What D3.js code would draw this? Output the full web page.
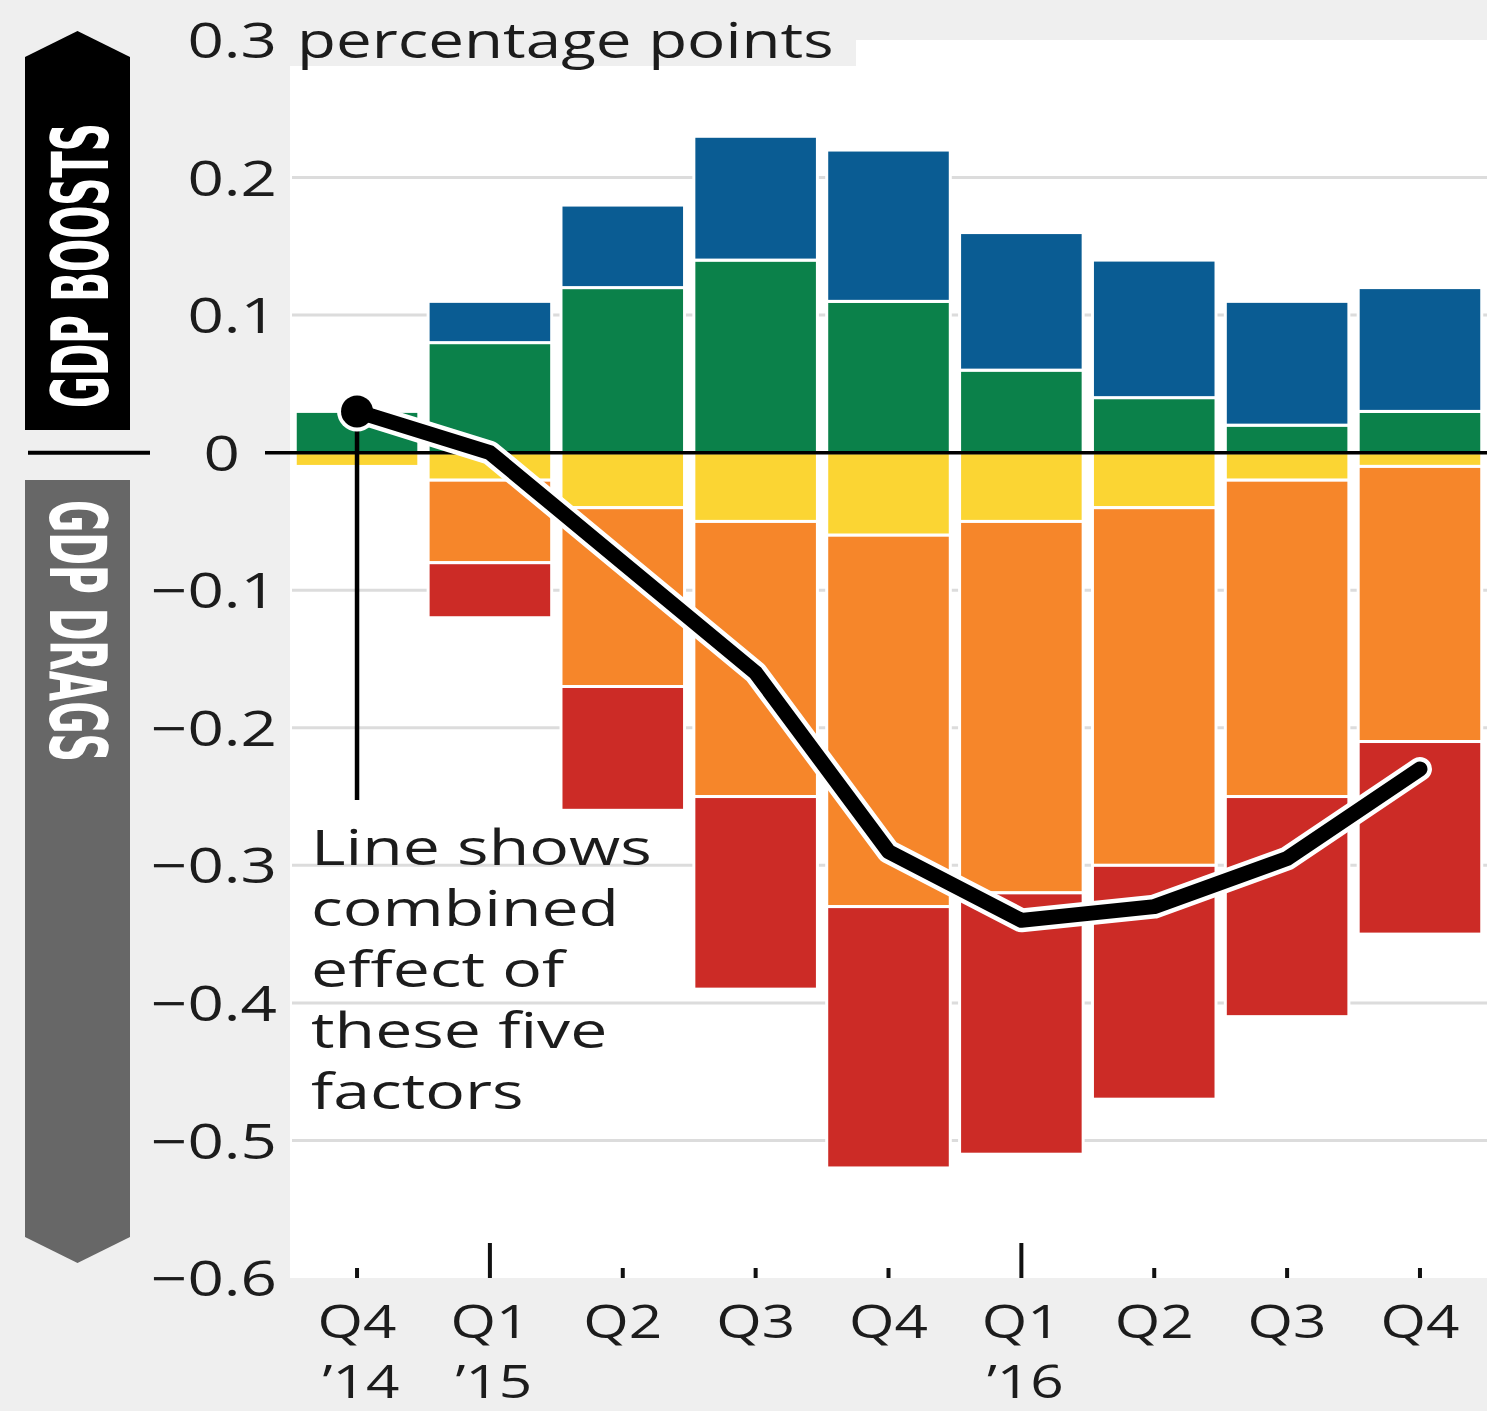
<!DOCTYPE html>
<html>
<head>
<meta charset="utf-8">
<script src="https://cdn.jsdelivr.net/npm/d3@7"></script>
<style>
  html, body { margin: 0; padding: 0; background: #efefef; }
  svg { display: block; }
  .wide { font-family: "Open Sans", "Noto Sans", sans-serif; fill: #1c1c1c; }
</style>
</head>
<body>
<svg id="chart" width="1487" height="1411"></svg>
<script>
// Quarters on the x axis
const periods = ["2014Q4", "2015Q1", "2015Q2", "2015Q3", "2015Q4", "2016Q1", "2016Q2", "2016Q3", "2016Q4"];
const quarterLabels = ["Q4", "Q1", "Q2", "Q3", "Q4", "Q1", "Q2", "Q3", "Q4"];
const yearLabels = ["’14", "’15", "", "", "", "’16", "", "", ""];

// Contributions to GDP growth, percentage points
const boostLower = [0.03, 0.08, 0.12, 0.14, 0.11, 0.06, 0.04, 0.02, 0.03];   // green
const boostUpper = [0.00, 0.03, 0.06, 0.09, 0.11, 0.10, 0.10, 0.09, 0.09];   // blue
const dragNear   = [-0.01, -0.02, -0.04, -0.05, -0.06, -0.05, -0.04, -0.02, -0.01]; // yellow
const dragMid    = [0.00, -0.06, -0.13, -0.20, -0.27, -0.27, -0.26, -0.23, -0.20]; // orange
const dragFar    = [0.00, -0.04, -0.09, -0.14, -0.19, -0.19, -0.17, -0.16, -0.14]; // red

// Combined effect of the five factors
const combined = [0.03, 0.00, -0.08, -0.16, -0.29, -0.34, -0.33, -0.295, -0.23];

// Y axis ticks
const yTickValues = [0.3, 0.2, 0.1, 0, -0.1, -0.2, -0.3, -0.4, -0.5, -0.6];

const keys = ["boostLower", "boostUpper", "dragNear", "dragMid", "dragFar"];
const colors = {
  boostLower: "#0b814a",
  boostUpper: "#0a5c93",
  dragNear: "#fbd533",
  dragMid: "#f6862a",
  dragFar: "#cc2b26"
};

const svg = d3.select("#chart");
const plot = { left: 290, right: 1487, top: 40, bottom: 1278 };

const y = d3.scaleLinear().domain([-0.6, 0.3]).range([plot.bottom, plot.top]);
const x = d3.scaleBand().domain(periods).range([290.6, 1486.4])
  .paddingInner(0.07).paddingOuter(0.035);
const cx = p => x(p) + x.bandwidth() / 2;

// Background
svg.append("rect").attr("width", 1487).attr("height", 1411).attr("fill", "#efefef");
svg.append("rect")
  .attr("x", plot.left).attr("y", plot.top)
  .attr("width", plot.right - plot.left).attr("height", plot.bottom - plot.top)
  .attr("fill", "#ffffff");

// Gridlines
svg.append("g").selectAll("line")
  .data(yTickValues.filter(v => v !== 0 && v !== 0.3 && v !== -0.6))
  .join("line")
  .attr("x1", plot.left + 2).attr("x2", plot.right)
  .attr("y1", d => y(d)).attr("y2", d => y(d))
  .attr("stroke", "#dcdcdc").attr("stroke-width", 3);

// Stacked bars
const rows = periods.map((p, i) => ({
  period: p,
  boostLower: boostLower[i],
  boostUpper: boostUpper[i],
  dragNear: dragNear[i],
  dragMid: dragMid[i],
  dragFar: dragFar[i]
}));
const stacked = d3.stack().keys(keys).offset(d3.stackOffsetDiverging)(rows);

svg.append("g").selectAll("g")
  .data(stacked)
  .join("g")
  .attr("fill", s => colors[s.key])
  .selectAll("rect")
  .data(s => s.filter(d => d[1] !== d[0]))
  .join("rect")
  .attr("x", d => x(d.data.period))
  .attr("width", x.bandwidth())
  .attr("y", d => y(Math.max(d[0], d[1])))
  .attr("height", d => Math.abs(y(d[0]) - y(d[1])))
  .attr("stroke", "#ffffff")
  .attr("stroke-width", 3);

// Zero line
svg.append("line")
  .attr("x1", 265).attr("x2", plot.right)
  .attr("y1", y(0)).attr("y2", y(0))
  .attr("stroke", "#000").attr("stroke-width", 3.5);

// Y axis labels
const yAxis = svg.append("g")
  .attr("transform", "translate(277,0)")
  .call(d3.axisLeft(y).tickValues(yTickValues).tickSize(0).tickPadding(0)
    .tickFormat(d => d === 0 ? "0" : d3.format(".1f")(d)));
yAxis.select(".domain").remove();
yAxis.selectAll("text")
  .attr("class", "wide")
  .attr("font-size", 49)
  .attr("dy", "0.36em")
  .attr("fill", "#1c1c1c")
  .attr("x", d => d === 0 ? -37 : 0);
yAxis.attr("font-family", null).attr("font-size", null);

// Unit label
svg.append("rect").attr("x", plot.left).attr("y", plot.top)
  .attr("width", 566).attr("height", 26).attr("fill", "#efefef");
svg.append("text").attr("class", "wide")
  .attr("x", 297).attr("y", y(0.3)).attr("dy", "0.36em")
  .attr("font-size", 49)
  .text("percentage points");

// X axis ticks and labels
const xg = svg.append("g");
xg.selectAll("line")
  .data(periods)
  .join("line")
  .attr("x1", d => cx(d)).attr("x2", d => cx(d))
  .attr("y1", (d, i) => quarterLabels[i] === "Q1" ? plot.bottom - 35 : plot.bottom - 10)
  .attr("y2", plot.bottom)
  .attr("stroke", "#111").attr("stroke-width", 4);
xg.selectAll("text.q")
  .data(periods)
  .join("text")
  .attr("class", "wide q")
  .attr("x", d => cx(d)).attr("y", 1338)
  .attr("text-anchor", "middle")
  .attr("font-size", 45)
  .text((d, i) => quarterLabels[i]);
xg.selectAll("text.yr")
  .data(periods.filter((d, i) => yearLabels[i] !== ""))
  .join("text")
  .attr("class", "wide yr")
  .attr("x", d => cx(d) + 4).attr("y", 1398)
  .attr("text-anchor", "middle")
  .attr("font-size", 45)
  .text(d => yearLabels[periods.indexOf(d)]);

// Annotation
svg.append("line")
  .attr("x1", cx(periods[0])).attr("x2", cx(periods[0]))
  .attr("y1", y(combined[0])).attr("y2", 800)
  .attr("stroke", "#000").attr("stroke-width", 4.5);
const noteLines = ["Line shows", "combined", "effect of", "these five", "factors"];
svg.append("g").selectAll("text")
  .data(noteLines)
  .join("text")
  .attr("class", "wide note")
  .attr("x", 311).attr("y", (d, i) => 865 + i * 61)
  .attr("font-size", 49)
  .text(d => d);

// Combined line with white halo
const line = d3.line()
  .x((d, i) => cx(periods[i]))
  .y(d => y(d));
svg.append("path").datum(combined)
  .attr("d", line).attr("fill", "none")
  .attr("stroke", "#ffffff").attr("stroke-width", 24)
  .attr("stroke-linejoin", "round").attr("stroke-linecap", "round");
svg.append("circle")
  .attr("cx", cx(periods[0])).attr("cy", y(combined[0])).attr("r", 20)
  .attr("fill", "#ffffff");
svg.append("path").datum(combined)
  .attr("d", line).attr("fill", "none")
  .attr("stroke", "#000").attr("stroke-width", 15)
  .attr("stroke-linejoin", "round").attr("stroke-linecap", "round");
svg.append("circle")
  .attr("cx", cx(periods[0])).attr("cy", y(combined[0])).attr("r", 16)
  .attr("fill", "#000");

// Side banners
svg.append("polygon")
  .attr("points", "25,57 77.5,31 130,57 130,430 25,430")
  .attr("fill", "#000");
svg.append("polygon")
  .attr("points", "25,480 130,480 130,1237 77.5,1263 25,1237")
  .attr("fill", "#676767");
svg.append("line")
  .attr("x1", 28).attr("x2", 150).attr("y1", y(0)).attr("y2", y(0))
  .attr("stroke", "#000").attr("stroke-width", 4);

// Banner captions, squeezed along their reading direction to fit the banner
function bannerText(label, tx, ty, angle, length) {
  const t = svg.append("text")
    .attr("font-family", "DejaVu Sans, sans-serif").attr("font-weight", "bold")
    .attr("font-size", 78).attr("fill", "#fff")
    .text(label);
  const natural = t.node().getComputedTextLength();
  t.attr("transform", `translate(${tx},${ty}) rotate(${angle}) scale(${length / natural},1)`);
}
bannerText("GDP BOOSTS", 108, 408, -90, 285);
bannerText("GDP DRAGS", 50, 500, 90, 262);

// Widen the lettering of regular labels
svg.selectAll("text.wide").each(function () {
  const w = this.getComputedTextLength();
  const k = this.classList.contains("note") ? 1.35 : 1.3;
  d3.select(this).attr("textLength", w * k).attr("lengthAdjust", "spacingAndGlyphs");
});
</script>
</body>
</html>
